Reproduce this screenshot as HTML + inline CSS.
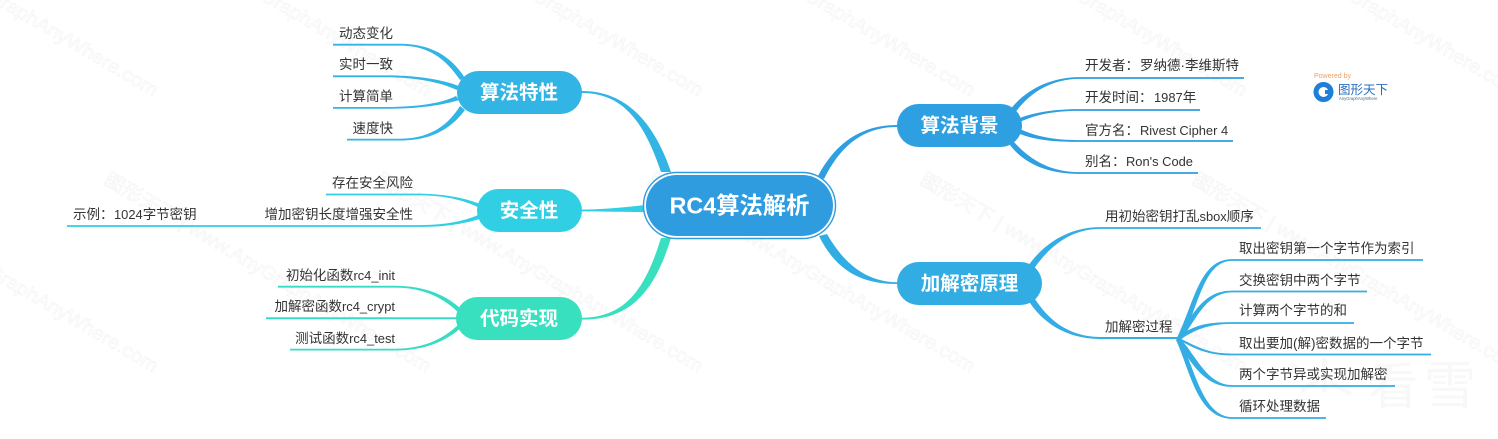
<!DOCTYPE html>
<html lang="zh"><head><meta charset="utf-8"><title>RC4算法解析</title>
<style>
html,body{margin:0;padding:0;background:#fff;width:1498px;height:439px;overflow:hidden}
svg{display:block}
text{font-family:"Liberation Sans","Noto Sans CJK SC",sans-serif}
.l{font-size:13.5px;fill:#333}
.l tspan{font-size:12.9px}
.e{text-anchor:end}
.n{font-size:19.5px;font-weight:700;fill:#fff;text-anchor:middle}
.w{font-size:19px;fill:#fff;stroke:#f0f0f0;stroke-width:.5}
</style></head><body>
<svg width="1498" height="439" viewBox="0 0 1498 439" xmlns="http://www.w3.org/2000/svg">
<g>
<text class="w" textLength="375" lengthAdjust="spacingAndGlyphs" transform="translate(-170,-93) rotate(30.4)">图形天下 | www.AnyGraphAnyWhere.com</text>
<text class="w" textLength="375" lengthAdjust="spacingAndGlyphs" transform="translate(103,-93) rotate(30.4)">图形天下 | www.AnyGraphAnyWhere.com</text>
<text class="w" textLength="375" lengthAdjust="spacingAndGlyphs" transform="translate(375,-93) rotate(30.4)">图形天下 | www.AnyGraphAnyWhere.com</text>
<text class="w" textLength="375" lengthAdjust="spacingAndGlyphs" transform="translate(647,-93) rotate(30.4)">图形天下 | www.AnyGraphAnyWhere.com</text>
<text class="w" textLength="375" lengthAdjust="spacingAndGlyphs" transform="translate(919,-93) rotate(30.4)">图形天下 | www.AnyGraphAnyWhere.com</text>
<text class="w" textLength="375" lengthAdjust="spacingAndGlyphs" transform="translate(1191,-93) rotate(30.4)">图形天下 | www.AnyGraphAnyWhere.com</text>
<text class="w" textLength="375" lengthAdjust="spacingAndGlyphs" transform="translate(-170,183) rotate(30.4)">图形天下 | www.AnyGraphAnyWhere.com</text>
<text class="w" textLength="375" lengthAdjust="spacingAndGlyphs" transform="translate(103,183) rotate(30.4)">图形天下 | www.AnyGraphAnyWhere.com</text>
<text class="w" textLength="375" lengthAdjust="spacingAndGlyphs" transform="translate(375,183) rotate(30.4)">图形天下 | www.AnyGraphAnyWhere.com</text>
<text class="w" textLength="375" lengthAdjust="spacingAndGlyphs" transform="translate(647,183) rotate(30.4)">图形天下 | www.AnyGraphAnyWhere.com</text>
<text class="w" textLength="375" lengthAdjust="spacingAndGlyphs" transform="translate(919,183) rotate(30.4)">图形天下 | www.AnyGraphAnyWhere.com</text>
<text class="w" textLength="375" lengthAdjust="spacingAndGlyphs" transform="translate(1191,183) rotate(30.4)">图形天下 | www.AnyGraphAnyWhere.com</text>
</g>

<!-- bottom-right watermark -->
<g fill="#f8f8f8">
<text x="1368" y="404" font-size="50">看</text>
<text x="1424" y="404" font-size="52">雪</text>
<path d="M1292 362L1312 378L1310 381L1290 365ZM1322 358H1327V392H1322ZM1300 388L1318 378L1320 382L1302 393ZM1331 380L1352 392L1350 396L1329 384Z"/>
</g>

<!-- main branches -->
<path fill="#32b4e4" d="M582 91C628 91 655 125 671 172L661 172C645 125 625 93 582 93Z"/>
<path fill="#30cfe3" d="M582 209.6C600 209.6 620 208 645 205L645 212C620 212 600 211.4 582 211.4Z"/>
<path fill="#38e0c0" d="M582 317.8C625 317 645 290 661 238L671 238C655 290 632 319.6 582 319.6Z"/>
<path fill="#2e9fe0" d="M897 125C862 125 836 142 818 176L824 179C840 147 862 127 897 127Z"/>
<path fill="#31ade3" d="M897 282.2C865 282 843 262 827 234L819 236C835 268 858 284 897 284Z"/>

<!-- 算法特性 leaves -->
<g fill="#32b4e4">
<path d="M333 43.8H400C430 44 450 55 465 78L460 80C445 58 428 45.6 400 45.6H333Z"/>
<path d="M333 75.4H385C415 75.4 440 79 459 86L457 90C440 82 415 77.2 385 77.2H333Z"/>
<path d="M333 107H385C415 107 440 104 456 96L459 100C440 106 415 108.8 385 108.8H333Z"/>
<path d="M347 138.7H400C428 138.7 447 127 460 106L465 110C450 130 430 140.5 400 140.5H347Z"/>
</g>
<!-- 安全性 leaves -->
<g fill="#30cfe3">
<path d="M326 193.6H420C445 194 465 198 480 204L478 207C462 200 445 195.4 420 195.4H326Z"/>
<path d="M67 225.1H420C445 225 465 221 478 215L480 219C462 224 445 226.9 420 226.9H67Z"/>
</g>
<!-- 代码实现 leaves -->
<g fill="#38dcc4">
<path d="M278 285.8H395C425 286 447 295 463 311L460 314C445 299 425 287.6 395 287.6H278Z"/>
<path d="M266 317.2H460V319.2H266Z"/>
<path d="M290 348.7H395C425 348.7 445 338 460 323L463 326C447 341 425 350.5 395 350.5H290Z"/>
</g>
<!-- 算法背景 leaves -->
<g fill="#2e9fe0">
<path d="M1010 110C1025 90 1050 77.3 1079 77.1H1244V78.9H1079C1052 79 1030 92 1015 113Z"/>
<path d="M1020 118C1035 112 1055 109.2 1079 109.1H1200V110.9H1079C1055 111 1037 114 1020 122Z"/>
<path d="M1020 129C1037 137 1055 140 1079 140.1H1233V141.9H1079C1055 142 1035 140 1020 134Z"/>
<path d="M1013 141C1030 160 1050 172 1079 172.1H1198V173.9H1079C1050 174 1025 165 1010 145Z"/>
</g>
<!-- 加解密 leaves -->
<g fill="#33ade3">
<path d="M1028 266C1045 242 1070 227.2 1100 227.1H1261V228.9H1100C1072 229 1050 245 1033 270Z"/>
<path d="M1033 296C1048 320 1068 336.5 1100 337H1180V339H1100C1065 338.6 1042 322 1028 300Z"/>
<path d="M1177 338C1195 300 1200 259.2 1232 259.1H1423V260.9H1232C1204 261 1199 305 1182 339Z"/>
<path d="M1177 338C1195 310 1205 290.8 1232 290.6H1367V292.4H1232C1208 292.6 1198 315 1182 339Z"/>
<path d="M1177 337C1195 325 1205 322.3 1232 322.1H1354V323.9H1232C1208 324 1195 330 1181 339Z"/>
<path d="M1177 337C1195 345 1205 353.5 1232 353.6H1431V355.4H1232C1208 355.4 1195 349 1179 340Z"/>
<path d="M1178 337C1194 350 1205 385 1232 385.1H1395V386.9H1232C1203 387 1190 360 1176 340Z"/>
<path d="M1179 337C1194 365 1202 417 1232 417.1H1326V418.9H1232C1197 418.5 1190 370 1176 340Z"/>
</g>

<!-- nodes -->
<rect x="643.5" y="172.5" width="192" height="66" rx="33" fill="#fff" stroke="#2f9ce0" stroke-width="1.4"/>
<rect x="646" y="175" width="187" height="61" rx="30.5" fill="#2f9ce0"/>
<text x="739.5" y="213.5" font-size="23.3" font-weight="700" fill="#fff" text-anchor="middle">RC4算法解析</text>

<rect x="457" y="71" width="125" height="43" rx="21.5" fill="#32b4e4"/>
<text class="n" x="519" y="99">算法特性</text>
<rect x="477" y="189" width="105" height="43" rx="21.5" fill="#30cfe3"/>
<text class="n" x="529" y="217">安全性</text>
<rect x="456" y="297" width="126" height="43" rx="21.5" fill="#38e0c0"/>
<text class="n" x="519" y="325">代码实现</text>
<rect x="897" y="104" width="125" height="43" rx="21.5" fill="#2e9fe0"/>
<text class="n" x="959.5" y="132">算法背景</text>
<rect x="897" y="262" width="145" height="43" rx="21.5" fill="#31ade3"/>
<text class="n" x="969.5" y="290">加解密原理</text>

<!-- labels -->
<text class="l e" x="393" y="38">动态变化</text>
<text class="l e" x="393" y="69">实时一致</text>
<text class="l e" x="393" y="101">计算简单</text>
<text class="l e" x="393" y="133">速度快</text>
<text class="l e" x="413" y="187.5">存在安全风险</text>
<text class="l e" x="413" y="219">增加密钥长度增强安全性</text>
<text class="l" x="73" y="219">示例：<tspan x="114">1024</tspan>字节密钥</text>
<text class="l e" x="395" y="280">初始化函数<tspan>rc4_init</tspan></text>
<text class="l e" x="395" y="311">加解密函数<tspan>rc4_crypt</tspan></text>
<text class="l e" x="395" y="343">测试函数<tspan>rc4_test</tspan></text>

<text class="l" x="1085" y="70">开发者：<tspan x="1140" style="font-size:13.5px">罗纳德·李维斯特</tspan></text>
<text class="l" x="1085" y="102">开发时间：<tspan x="1154">1987</tspan>年</text>
<text class="l" x="1085" y="135">官方名：<tspan x="1140">Rivest Cipher 4</tspan></text>
<text class="l" x="1085" y="166">别名：<tspan x="1126">Ron's Code</tspan></text>
<text class="l" x="1105" y="221">用初始密钥打乱<tspan>sbox</tspan>顺序</text>
<text class="l" x="1105" y="331.5">加解密过程</text>
<text class="l" x="1239" y="253">取出密钥第一个字节作为索引</text>
<text class="l" x="1239" y="285">交换密钥中两个字节</text>
<text class="l" x="1239" y="315">计算两个字节的和</text>
<text class="l" x="1239" y="348">取出要加(解)密数据的一个字节</text>
<text class="l" x="1239" y="379">两个字节异或实现加解密</text>
<text class="l" x="1239" y="411">循环处理数据</text>

<!-- logo -->
<text x="1314" y="78" font-size="7" fill="#eca268">Powered by</text>
<circle cx="1323.5" cy="92" r="7.5" fill="none" stroke="#1f7fd6" stroke-width="5"/>
<rect x="1325" y="90" width="8" height="4" fill="#1f7fd6"/>
<text x="1338" y="94" font-size="12.5" fill="#2b6cb8">图形天下</text>
<text x="1339" y="100" font-size="4.2" fill="#4a6a90">AnyGraphAnyWhere</text>
</svg>
</body></html>
